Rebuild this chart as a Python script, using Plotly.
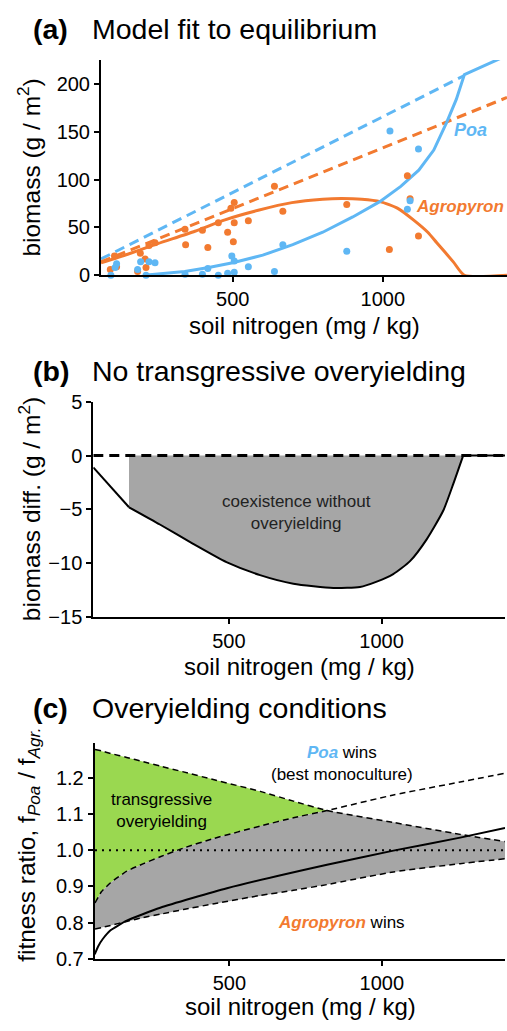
import plotly.graph_objects as go

# ---------------- data ----------------
# (a) monoculture observations
agr_obs_x = [92, 106, 113, 183, 192, 208, 211, 221, 241, 343, 341, 399, 417, 452, 483, 494, 505, 505, 502, 552, 639, 667, 880, 1022, 1082, 1091, 1119]
agr_obs_y = [6, 20, 9, 4, 23, 17, 8, 31, 34, 32, 48, 47, 29, 55, 45, 70, 76, 55, 35, 57, 93, 67, 74, 27, 104, 80, 41]
poa_obs_x = [94, 108, 113, 183, 193, 211, 221, 241, 341, 399, 417, 452, 483, 497, 505, 505, 552, 639, 667, 880, 1024, 1082, 1091, 1119]
poa_obs_y = [0, 8, 12, 6, 14, 0, 14, 13, 1, 1, 7, 0, 2, 20, 15, 3, 9, 4, 32, 25, 151, 69, 78, 132]
# (a) model fits
poa_mono_x = [61, 1272]
poa_mono_y = [17, 209]
agr_mono_x = [61, 1414]
agr_mono_y = [14, 186]
poa_mix_x = [205, 260, 340, 420, 500, 600, 700, 800, 900, 990, 1060, 1120, 1170, 1213, 1245, 1272, 1414]
poa_mix_y = [0, 1.5, 4, 8, 13, 21, 32, 45, 61, 77, 93, 110, 131, 160, 184, 210, 230]
agr_mix_x = [61, 150, 250, 374, 474, 585, 697, 800, 863, 930, 991, 1050, 1102, 1150, 1180, 1235, 1272, 1414]
agr_mix_y = [13, 22, 33, 46, 58, 68, 76, 79.5, 80.2, 79.5, 77, 70, 58, 45, 34, 14, 0, 0]

# (b) biomass difference
diff_x = [56, 173, 274, 383, 492, 602, 711, 842, 929, 984, 1038, 1093, 1147, 1202, 1235, 1267, 1404]
diff_y = [-1.1, -4.8, -6.4, -8.2, -9.9, -11.1, -11.9, -12.3, -12.2, -11.7, -11.0, -9.8, -7.8, -5.1, -2.6, 0, 0]
coex_start, coex_end = 1, 15  # index range of the coexistence region

# (c) fitness ratio boundaries
fr_x = [59, 80, 110, 163, 218, 273, 349, 450, 601, 710, 820, 1038, 1257, 1404]
fr_upper = [1.279, 1.275, 1.268, 1.257, 1.245, 1.233, 1.217, 1.195, 1.163, 1.136, 1.110, 1.077, 1.044, 1.024]
fr_middle = [0.854, 0.885, 0.910, 0.942, 0.963, 0.982, 1.006, 1.033, 1.067, 1.090, 1.110, 1.153, 1.189, 1.213]
fr_lower = [0.782, 0.786, 0.792, 0.803, 0.814, 0.823, 0.836, 0.852, 0.875, 0.889, 0.905, 0.940, 0.963, 0.9765]
fr_cross = 10  # index where middle meets upper
fit_x = [58, 70, 85, 109, 163, 273, 492, 820, 1038, 1257, 1404]
fit_y = [0.712, 0.735, 0.755, 0.778, 0.805, 0.841, 0.895, 0.960, 0.999, 1.035, 1.062]

x_ticks = [500, 1000]
ya_ticks = [0, 50, 100, 150, 200]
yb_ticks = [5, 0, -5, -10, -15]
yc_ticks = [0.7, 0.8, 0.9, 1.0, 1.1, 1.2]

# ---------------- style ----------------
BLUE = "#5FB7F4"
ORANGE = "#F27A30"
GREEN = "#9AD850"
GREY = "#A6A6A6"
FONT = "Liberation Sans, Arial, Helvetica, sans-serif"
W, H = 507, 1031

fig = go.Figure()

# ---- panel a ----
fig.add_trace(go.Scatter(x=poa_mono_x, y=poa_mono_y, mode="lines", line=dict(color=BLUE, width=3, dash="10px,6px"), xaxis="x", yaxis="y"))
fig.add_trace(go.Scatter(x=agr_mono_x, y=agr_mono_y, mode="lines", line=dict(color=ORANGE, width=3, dash="10px,6px"), xaxis="x", yaxis="y"))
fig.add_trace(go.Scatter(x=agr_mix_x, y=agr_mix_y, mode="lines", line=dict(color=ORANGE, width=3, shape="spline", smoothing=0.6), xaxis="x", yaxis="y", cliponaxis=False))
fig.add_trace(go.Scatter(x=poa_mix_x, y=poa_mix_y, mode="lines", line=dict(color=BLUE, width=3), xaxis="x", yaxis="y", cliponaxis=False))
fig.add_trace(go.Scatter(x=agr_obs_x, y=agr_obs_y, mode="markers", marker=dict(color=ORANGE, size=7), xaxis="x", yaxis="y", cliponaxis=False))
fig.add_trace(go.Scatter(x=poa_obs_x, y=poa_obs_y, mode="markers", marker=dict(color=BLUE, size=7), xaxis="x", yaxis="y", cliponaxis=False))

# ---- panel b ----
fig.add_trace(go.Scatter(x=diff_x[coex_start:coex_end + 1], y=diff_y[coex_start:coex_end + 1], mode="lines",
                         line=dict(width=0, shape="spline", smoothing=0.6), fill="tozeroy", fillcolor=GREY, xaxis="x2", yaxis="y2"))
fig.add_trace(go.Scatter(x=[diff_x[0], diff_x[-1]], y=[0, 0], mode="lines", line=dict(color="black", width=3, dash="10px,6px"), xaxis="x2", yaxis="y2"))
fig.add_trace(go.Scatter(x=diff_x[:coex_start + 1], y=diff_y[:coex_start + 1], mode="lines", line=dict(color="black", width=2), xaxis="x2", yaxis="y2"))
fig.add_trace(go.Scatter(x=diff_x[coex_start:coex_end + 1], y=diff_y[coex_start:coex_end + 1], mode="lines",
                         line=dict(color="black", width=2, shape="spline", smoothing=0.6), xaxis="x2", yaxis="y2"))
fig.add_trace(go.Scatter(x=diff_x[coex_end:], y=diff_y[coex_end:], mode="lines", line=dict(color="black", width=2), xaxis="x2", yaxis="y2"))

# ---- panel c ----
green_x = fr_x[:fr_cross + 1] + fr_x[:fr_cross + 1][::-1]
green_y = fr_upper[:fr_cross + 1] + fr_middle[:fr_cross + 1][::-1]
fig.add_trace(go.Scatter(x=green_x, y=green_y, mode="lines", line=dict(width=0), fill="toself", fillcolor=GREEN, xaxis="x3", yaxis="y3"))
top_y = fr_middle[:fr_cross + 1] + fr_upper[fr_cross + 1:]
grey_x = fr_x + fr_x[::-1]
grey_y = top_y + fr_lower[::-1]
fig.add_trace(go.Scatter(x=grey_x, y=grey_y, mode="lines", line=dict(width=0), fill="toself", fillcolor=GREY, xaxis="x3", yaxis="y3"))
fig.add_trace(go.Scatter(x=[fr_x[0], fr_x[-1]], y=[1.0, 1.0], mode="lines", line=dict(color="black", width=2, dash="2px,5px"), xaxis="x3", yaxis="y3"))
for ys in (fr_upper, fr_middle, fr_lower):
    fig.add_trace(go.Scatter(x=fr_x, y=ys, mode="lines", line=dict(color="black", width=1.5, dash="6px,4px", shape="spline", smoothing=0.5), xaxis="x3", yaxis="y3"))
fig.add_trace(go.Scatter(x=fit_x, y=fit_y, mode="lines", line=dict(color="black", width=2, shape="spline", smoothing=0.5), xaxis="x3", yaxis="y3", cliponaxis=False))


def px(v):
    return v / W


def py(v):
    return 1 - v / H


axis_common = dict(showline=True, linecolor="black", linewidth=2, ticks="outside", ticklen=5, tickwidth=1.5,
                   tickcolor="black", showgrid=False, zeroline=False, tickfont=dict(family=FONT, size=20, color="black"))

layout = dict(
    width=W, height=H, margin=dict(l=0, r=0, t=0, b=0), showlegend=False,
    plot_bgcolor="white", paper_bgcolor="white", font=dict(family=FONT, color="black"),
    xaxis=dict(domain=[px(101), 1.0], range=[61, 1414], tickvals=x_ticks, anchor="y", **axis_common),
    yaxis=dict(domain=[py(270), py(50)], range=[0, 225.3], tickvals=ya_ticks, anchor="x", **axis_common),
    xaxis2=dict(domain=[px(93.3), px(505)], range=[56, 1404], tickvals=x_ticks, anchor="y2", **axis_common),
    yaxis2=dict(domain=[py(619.3), py(399.3)], range=[-15, 5], tickvals=yb_ticks, anchor="x2", **axis_common),
    xaxis3=dict(domain=[px(94.7), px(505)], range=[58, 1404], tickvals=x_ticks, anchor="y3", **axis_common),
    yaxis3=dict(domain=[py(968.3), py(748.3)], range=[0.7, 1.296], tickvals=yc_ticks, tickformat=".1f", anchor="x3", **axis_common),
)
fig.update_layout(**layout)

ann = []


def paper_text(text, x, y, size, xanchor="left", angle=0):
    ann.append(dict(text=text, x=px(x), y=py(y), xref="paper", yref="paper", showarrow=False,
                    xanchor=xanchor, yanchor="middle", textangle=angle, font=dict(family=FONT, size=size, color="black")))


# panel titles
paper_text("<b>(a)</b>", 31, 18, 28.5)
paper_text("Model fit to equilibrium", 90, 18, 28.5)
paper_text("<b>(b)</b>", 31, 368, 28.5)
paper_text("No transgressive overyielding", 90, 368, 28.5)
paper_text("<b>(c)</b>", 31, 712, 28.5)
paper_text("Overyielding conditions", 90, 712, 28.5)
# x titles
paper_text("soil nitrogen (mg / kg)", 304, 321, 24, "center")
paper_text("soil nitrogen (mg / kg)", 299, 670, 24, "center")
paper_text("soil nitrogen (mg / kg)", 300, 1017, 24, "center")
# y titles
paper_text("biomass (g / m<sup>2</sup>)", 29, 160, 24.5, "center", -90)
paper_text("biomass diff. (g / m<sup>2</sup>)", 29, 509, 24.5, "center", -90)
paper_text("fitness ratio, f<sub><i>Poa</i></sub> / f<sub><i>Agr.</i></sub>", 29, 852, 24.5, "center", -90)


def data_text(text, x, y, xr, yr, size, color="black", xanchor="center"):
    ann.append(dict(text=text, x=x, y=y, xref=xr, yref=yr, showarrow=False, xanchor=xanchor, yanchor="middle",
                    font=dict(family=FONT, size=size, color=color)))


data_text("<b><i>Poa</i></b>", 1294, 151.5, "x", "y", 18, BLUE)
data_text("<b><i>Agropyron</i></b>", 1412, 71.6, "x", "y", 17, ORANGE, "right")
data_text("coexistence without<br>overyielding", 720, -5.3, "x2", "y2", 17, "#222222")
data_text(f"<b><i><span style='color:{BLUE}'>Poa</span></i></b> wins<br>(best monoculture)", 869, 1.239, "x3", "y3", 17)
data_text("transgressive<br>overyielding", 106, 1.11, "x3", "y3", 17, "black", "left")
data_text(f"<b><i><span style='color:{ORANGE}'>Agropyron</span></i></b> wins", 869, 0.799, "x3", "y3", 17)

fig.update_layout(annotations=ann)
fig.write_html("out.html")
